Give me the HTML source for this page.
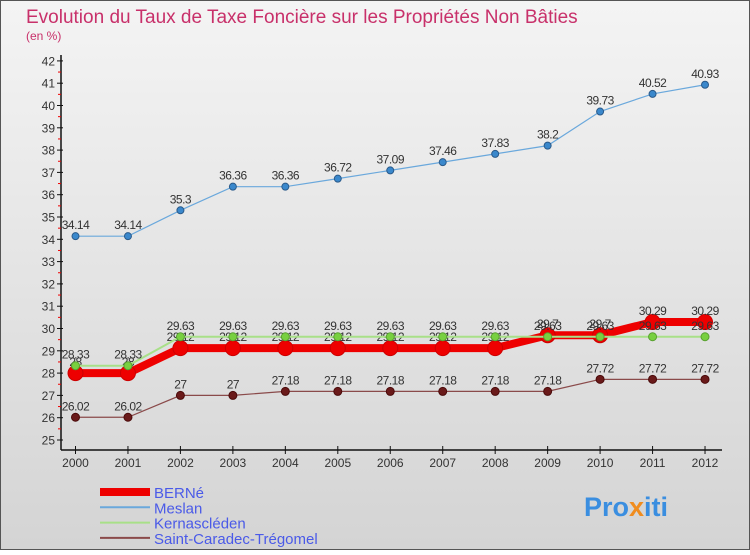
<!DOCTYPE html>
<html><head><meta charset="utf-8"><style>
body{margin:0;width:750px;height:550px;overflow:hidden;font-family:"Liberation Sans",sans-serif}
</style></head><body>
<svg width="750" height="550" xmlns="http://www.w3.org/2000/svg">
<defs><linearGradient id="bg" x1="0" y1="0" x2="0" y2="1"><stop offset="0" stop-color="#f4f4f4"/><stop offset="1" stop-color="#d4d4d4"/></linearGradient></defs>
<rect x="0.5" y="0.5" width="749" height="549" fill="url(#bg)" stroke="#555"/>
<text x="26" y="23" font-size="19" fill="#c8306a">Evolution du Taux de Taxe Foncière sur les Propriétés Non Bâties</text>
<text x="26" y="40" font-size="12" fill="#c8306a">(en %)</text>
<g id="axes"></g><g id="series"></g><g id="legend"></g>
<text x="584" y="516" font-size="27" font-weight="bold" fill="#3a8ee0">Pro<tspan fill="#f08c1e">x</tspan>iti</text>
</svg>
<script>
const years=[2000,2001,2002,2003,2004,2005,2006,2007,2008,2009,2010,2011,2012];
const yTicks=[25,26,27,28,29,30,31,32,33,34,35,36,37,38,39,40,41,42];
const berne=[28,28,29.12,29.12,29.12,29.12,29.12,29.12,29.12,29.7,29.7,30.29,30.29];
const meslan=[34.14,34.14,35.3,36.36,36.36,36.72,37.09,37.46,37.83,38.2,39.73,40.52,40.93];
const kern=[28.33,28.33,29.63,29.63,29.63,29.63,29.63,29.63,29.63,29.63,29.63,29.63,29.63];
const stc=[26.02,26.02,27,27,27.18,27.18,27.18,27.18,27.18,27.18,27.72,27.72,27.72];
const NS="http://www.w3.org/2000/svg";
const xs=i=>75.5+i*52.46;
const ys=v=>440-(v-25)*22.3;
function mk(p,t,a){const e=document.createElementNS(NS,t);for(const k in a)e.setAttribute(k,a[k]);p.appendChild(e);return e;}
const ax=document.getElementById('axes');
const yl=mk(ax,'line',{x1:61,y1:55,x2:61,y2:450,stroke:'#111','stroke-width':1.5});


const xl=mk(ax,'line',{x1:61,y1:450,x2:722,y2:450,stroke:'#111','stroke-width':1.5});


yTicks.forEach(v=>{
  const y=ys(v);
  mk(ax,'line',{x1:57,y1:y,x2:63,y2:y,stroke:'#111'});
  if(v<42) mk(ax,'line',{x1:58,y1:y-11.15,x2:61,y2:y-11.15,stroke:'#e00'});
  const t=mk(ax,'text',{x:55,y:y+4.5,'font-size':12,'text-anchor':'end',fill:'#333'});
  t.textContent=v;
  
  
});
years.forEach((yr,i)=>{
  const x=xs(i);
  mk(ax,'line',{x1:x,y1:446,x2:x,y2:454,stroke:'#111'});
  const t=mk(ax,'text',{x:x,y:467,'font-size':12,'text-anchor':'middle',fill:'#333'});
  t.textContent=yr;
  
  
});
const sg=document.getElementById('series');
function series(name,vals,color,w,r,dot,dotStroke){
  const g=mk(sg,'g',{});
  
  
  mk(g,'polyline',{points:vals.map((v,i)=>xs(i)+','+ys(v)).join(' '),fill:'none',stroke:color,'stroke-width':w});
  vals.forEach((v,i)=>{
    const c=mk(g,'circle',{cx:xs(i),cy:ys(v),r:r,fill:dot,stroke:dotStroke,'stroke-width':1});
    
    
    const t=mk(g,'text',{x:xs(i),y:ys(v)-7,'font-size':12,'text-anchor':'middle',fill:'#333','letter-spacing':'-0.5'});
    t.textContent=v;
    
    
  });
}
series('meslan',meslan,'#6aa8dc',1.2,3.5,'#3a88cc','#2a5a8a');
series('saint-caradec',stc,'#8a4a4a',1.2,4,'#6a1a1a','#4a0a0a');
series('berne',berne,'#ee0000',8,7.5,'#ee0000','#cc0000');
series('kernascleden',kern,'#a8e088',2,4,'#78d040','#58a030');
const lg=document.getElementById('legend');
const items=[['BERNé','#ee0000',8],['Meslan','#6aa8dc',2],['Kernascléden','#a8e088',2],['Saint-Caradec-Trégomel','#8a4a4a',2]];
items.forEach((it,i)=>{
  const y=492+i*15.3;
  const g=mk(lg,'g',{});
  
  
  mk(g,'line',{x1:100,y1:y,x2:150,y2:y,stroke:it[1],'stroke-width':it[2]});
  const t=mk(g,'text',{x:154,y:y+6,'font-size':15,fill:'#4a5ae8'});
  t.textContent=it[0];
});
</script>
</body></html>
